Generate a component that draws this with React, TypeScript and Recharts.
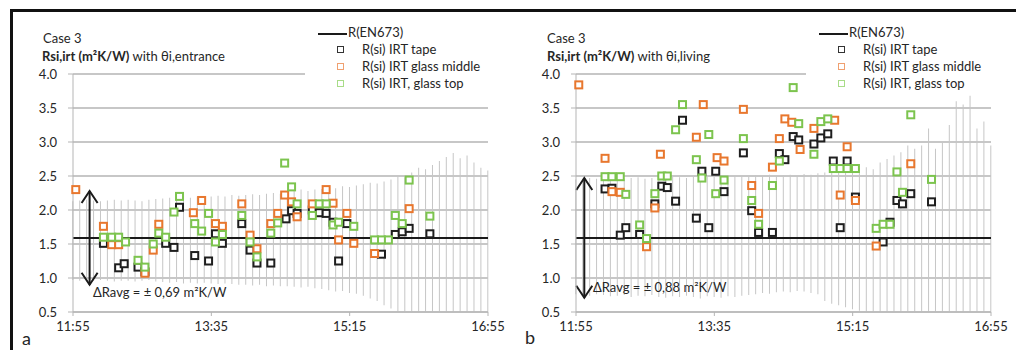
import {
  Bar,
  CartesianGrid,
  ComposedChart,
  Legend,
  ReferenceLine,
  Scatter,
  XAxis,
  YAxis,
} from "recharts";

type Pt = [string, number];

// R(EN673) reference value, m²K/W
const R_EN673 = 1.59;

const yTicks = [0.5, 1, 1.5, 2, 2.5, 3, 3.5, 4];
const xTickLabels = ["11:55", "13:35", "15:15", "16:55"];

// grey spread lines, one every 5 minutes from 11:55
const spreadStart = "11:55";
const spreadStep = 5;

// (a) with θi,entrance
const entranceTape: Pt[] = [
  ["12:17", 1.51], ["12:28", 1.15], ["12:32", 1.21], ["12:42", 1.16], ["12:47", 1.09],
  ["13:02", 1.51], ["13:08", 1.45], ["13:12", 2.04], ["13:23", 1.33], ["13:33", 1.25],
  ["13:38", 1.65], ["13:43", 1.51], ["13:57", 1.8], ["14:03", 1.41], ["14:08", 1.22],
  ["14:18", 1.22], ["14:29", 1.87], ["14:33", 1.99], ["14:37", 1.95], ["14:48", 2.0],
  ["14:53", 1.96], ["14:58", 1.95], ["15:03", 1.82], ["15:07", 1.25], ["15:13", 1.8],
  ["15:38", 1.35], ["15:48", 1.64], ["15:53", 1.68], ["15:58", 1.73], ["16:13", 1.65],
];
const entranceMiddle: Pt[] = [
  ["11:57", 2.3], ["12:17", 1.76], ["12:23", 1.49], ["12:28", 1.49], ["12:47", 1.07],
  ["12:53", 1.41], ["12:57", 1.79], ["13:22", 1.96], ["13:28", 2.14], ["13:38", 1.8],
  ["13:43", 1.76], ["13:57", 2.09], ["14:03", 1.63], ["14:08", 1.43], ["14:18", 1.8],
  ["14:23", 1.95], ["14:28", 2.22], ["14:33", 2.12], ["14:37", 1.9], ["14:48", 2.09],
  ["14:58", 2.3], ["15:03", 2.1], ["15:07", 1.56], ["15:13", 1.95], ["15:18", 1.51],
  ["15:33", 1.36], ["15:58", 2.02],
];
const entranceTop: Pt[] = [
  ["12:17", 1.6], ["12:23", 1.6], ["12:28", 1.6], ["12:33", 1.53], ["12:42", 1.26],
  ["12:47", 1.16], ["12:53", 1.5], ["12:57", 1.66], ["13:02", 1.6], ["13:08", 1.97],
  ["13:12", 2.2], ["13:23", 1.8], ["13:28", 1.69], ["13:33", 1.95], ["13:38", 1.53],
  ["13:43", 1.64], ["13:57", 1.92], ["14:03", 1.53], ["14:08", 1.31], ["14:18", 1.66],
  ["14:23", 1.81], ["14:28", 2.69], ["14:33", 2.34], ["14:37", 2.09], ["14:48", 1.92],
  ["14:53", 2.09], ["14:58", 2.09], ["15:03", 1.78], ["15:07", 1.82], ["15:18", 1.76],
  ["15:33", 1.56], ["15:38", 1.56], ["15:43", 1.56], ["15:48", 1.92], ["15:53", 1.8],
  ["15:58", 2.44], ["16:13", 1.91],
];
const entranceLow = [
  0.97, 0.96, 0.95, 0.96, 0.97, 0.96, 0.95, 0.96, 0.96, 0.95, 0.96, 0.97, 0.95, 0.94,
  0.93, 0.94, 0.92, 0.93, 0.92, 0.93, 0.92, 0.91, 0.92, 0.91, 0.9,
  0.9, 0.89, 0.9, 0.88, 0.89, 0.88,
  0.88, 0.87, 0.86, 0.87, 0.85, 0.84,
  0.82, 0.8, 0.81, 0.78, 0.77,
  0.74, 0.7, 0.66, 0.6, 0.55,
  0.5, 0.5, 0.5,
  0.5, 0.5, 0.5, 0.5, 0.5, 0.5, 0.5, 0.5, 0.5, 0.5, 0.5,
];
const entranceHigh = [
  2.13, 2.14, 2.15, 2.14, 2.13, 2.14, 2.15, 2.14, 2.15, 2.14, 2.13, 2.15, 2.16, 2.17,
  2.18, 2.17, 2.19, 2.18, 2.2, 2.19, 2.2, 2.21, 2.2, 2.22, 2.21,
  2.22, 2.23, 2.22, 2.24, 2.25, 2.24,
  2.27, 2.28, 2.3, 2.28, 2.3, 2.31,
  2.33, 2.32, 2.35, 2.34, 2.36,
  2.38, 2.4, 2.39, 2.42, 2.45,
  2.5, 2.48, 2.55,
  2.62, 2.6, 2.66, 2.72, 2.78, 2.84, 2.76, 2.8, 2.7, 2.62, 2.58,
];
const entranceDelta = 0.69;

// (b) with θi,living
const livingTape: Pt[] = [
  ["12:16", 2.31], ["12:21", 2.32], ["12:27", 1.63], ["12:31", 1.74], ["12:41", 1.64],
  ["12:52", 2.09], ["12:57", 2.35], ["13:01", 2.33], ["13:07", 2.13], ["13:12", 3.32],
  ["13:22", 1.88], ["13:26", 2.57], ["13:31", 1.74], ["13:36", 2.57], ["13:42", 2.27],
  ["13:56", 2.84], ["14:02", 1.99], ["14:07", 1.67], ["14:17", 1.67], ["14:22", 2.83],
  ["14:26", 2.74], ["14:32", 3.08], ["14:36", 3.03], ["14:47", 2.97], ["14:52", 3.06],
  ["14:57", 3.12], ["15:01", 2.72], ["15:06", 1.74], ["15:11", 2.72], ["15:17", 2.19],
  ["15:37", 1.53], ["15:42", 1.82], ["15:47", 2.14], ["15:51", 2.09], ["15:57", 2.24],
  ["16:12", 2.12],
];
const livingMiddle: Pt[] = [
  ["11:57", 3.84], ["12:16", 2.76], ["12:21", 2.27], ["12:27", 2.26], ["12:46", 1.46],
  ["12:52", 2.03], ["12:56", 2.82], ["13:22", 3.07], ["13:27", 3.55], ["13:37", 2.77],
  ["13:42", 2.72], ["13:56", 3.48], ["14:02", 2.36], ["14:07", 1.95], ["14:17", 2.63],
  ["14:22", 3.05], ["14:26", 3.34], ["14:31", 3.29], ["14:37", 2.89], ["14:47", 3.2],
  ["15:02", 3.32], ["15:06", 2.22], ["15:11", 2.93], ["15:17", 2.14], ["15:32", 1.47],
  ["15:57", 2.68],
];
const livingTop: Pt[] = [
  ["12:16", 2.49], ["12:21", 2.49], ["12:27", 2.49], ["12:31", 2.23], ["12:41", 1.78],
  ["12:46", 1.58], ["12:52", 2.24], ["12:57", 2.5], ["13:01", 2.5], ["13:07", 3.18],
  ["13:12", 3.55], ["13:22", 2.74], ["13:26", 2.47], ["13:31", 3.11], ["13:36", 2.24],
  ["13:42", 2.44], ["13:56", 3.05], ["14:02", 2.14], ["14:07", 1.79], ["14:17", 2.36],
  ["14:22", 2.72], ["14:32", 3.8], ["14:36", 3.27], ["14:47", 2.82], ["14:52", 3.3],
  ["14:57", 3.34], ["15:01", 2.61], ["15:06", 2.61], ["15:11", 2.61], ["15:17", 2.61],
  ["15:32", 1.73], ["15:37", 1.79], ["15:42", 1.79], ["15:47", 2.56], ["15:51", 2.26],
  ["15:57", 3.4], ["16:12", 2.45],
];
const livingLow = [
  0.76, 0.75, 0.74, 0.76, 0.75, 0.73, 0.74, 0.75, 0.72, 0.74, 0.73, 0.75, 0.72, 0.71, 0.73,
  0.72, 0.74, 0.72, 0.7, 0.73, 0.72, 0.71, 0.73, 0.72, 0.74, 0.75, 0.76, 0.78, 0.77, 0.79,
  0.8, 0.79, 0.81, 0.8, 0.78, 0.76,
  0.66, 0.62, 0.6, 0.57,
  0.54, 0.52, 0.5, 0.5,
  0.5, 0.5, 0.5, 0.5,
  0.5, 0.5, 0.5, 0.5, 0.5, 0.5, 0.5, 0.5, 0.5, 0.5, 0.5, 0.5, 0.5,
];
const livingHigh = [
  2.45, 2.46, 2.47, 2.46, 2.45, 2.47, 2.48, 2.46, 2.47, 2.48, 2.46, 2.47, 2.48, 2.47, 2.49,
  2.48, 2.47, 2.49, 2.48, 2.5, 2.49, 2.48, 2.5, 2.49, 2.5, 2.49, 2.51, 2.5, 2.52, 2.5,
  2.51, 2.52, 2.5, 2.53, 2.52, 2.54,
  2.55, 2.56, 2.58, 2.57,
  2.6, 2.62, 2.63, 2.6,
  2.7, 2.75, 2.8, 2.85,
  2.95, 2.9, 2.95, 3.2, 2.9, 3.0, 3.25, 3.6, 3.55, 3.68, 3.2, 3.3, 2.95,
];
const livingDelta = 0.88;

const COLORS = { tape: "#1e1e1e", middle: "#e8772e", top: "#7cc44e" };
const LEGEND_ITEMS = [
  { name: "R(si) IRT tape", color: "#333" },
  { name: "R(si) IRT glass middle", color: "#f0a070" },
  { name: "R(si) IRT, glass top", color: "#a8dc88" },
];
const GRID = "#b5b5b5";
const TEXT = "#262626";
const FONT = "Lato, 'Noto Sans', sans-serif";

const toMin = (t: string) => {
  const [h, m] = t.split(":").map(Number);
  return h * 60 + m;
};
const fmtTime = (v: number) => `${Math.floor(v / 60)}:${String(v % 60).padStart(2, "0")}`;
const toPoints = (list: Pt[]) => list.map(([t, v]) => ({ t: toMin(t), v }));

const square = (color: string) => (p: any) =>
  p.cx == null ? <g /> : (
    <rect x={p.cx - 3.5} y={p.cy - 3.5} width={7} height={7} fill="#fff" stroke={color} strokeWidth={2} />
  );

// vertical double-headed arrow spanning ±ΔRavg
const arrowShape = (p: any) => {
  const x = p.x1;
  const top = Math.min(p.y1, p.y2);
  const bot = Math.max(p.y1, p.y2);
  return (
    <g stroke="#1a1a1a" strokeWidth={2} fill="none">
      <line x1={x} y1={top} x2={x} y2={bot} />
      <polyline points={`${x - 8},${top + 12} ${x},${top} ${x + 8},${top + 12}`} />
      <polyline points={`${x - 8},${bot - 12} ${x},${bot} ${x + 8},${bot - 12}`} />
    </g>
  );
};

const LegendBox = () => (
  <div style={{ background: "#fff", fontFamily: FONT, fontSize: 13, color: TEXT, lineHeight: "17px", height: 70 }}>
    <div style={{ position: "relative", height: 17 }}>
      <span style={{ position: "absolute", left: 13, top: 9, width: 29, borderTop: "2px solid #1a1a1a" }} />
      <span style={{ position: "absolute", left: 43, top: 0 }}>R(EN673)</span>
    </div>
    {LEGEND_ITEMS.map((it) => (
      <div key={it.name} style={{ position: "relative", height: 17 }}>
        <span
          style={{
            position: "absolute",
            left: 32,
            top: 5,
            width: 5,
            height: 5,
            border: `1.5px solid ${it.color}`,
          }}
        />
        <span style={{ position: "absolute", left: 57, top: 0, whiteSpace: "nowrap" }}>{it.name}</span>
      </div>
    ))}
  </div>
);

type PanelProps = {
  left: number;
  width: number;
  marginLeft: number;
  marginRight: number;
  legendLeft: number;
  tape: Pt[];
  middle: Pt[];
  top: Pt[];
  low: number[];
  high: number[];
  delta: number;
  arrowAt: string;
};

function Panel(props: PanelProps) {
  const spread = props.low.map((lo, i) => ({
    t: toMin(spreadStart) + i * spreadStep,
    range: [lo, props.high[i]],
  }));
  const ax = toMin(props.arrowAt);
  const tick = { fill: TEXT, fontSize: 13, fontFamily: FONT };
  return (
    <div style={{ position: "absolute", left: props.left, top: 0 }}>
      <ComposedChart
        width={props.width}
        height={350}
        data={spread}
        margin={{ top: 74, right: props.marginRight, bottom: 8, left: props.marginLeft }}
      >
        <CartesianGrid vertical={false} stroke={GRID} strokeWidth={1.3} />
        <XAxis
          dataKey="t"
          type="number"
          domain={[toMin("11:55"), toMin("16:55")]}
          ticks={xTickLabels.map(toMin)}
          tickFormatter={fmtTime}
          height={30}
          tick={tick}
          stroke={GRID}
          tickSize={4}
          tickMargin={6}
        />
        <YAxis
          type="number"
          domain={[0.5, 4]}
          ticks={yTicks}
          tickFormatter={(v: number) => v.toFixed(1)}
          width={40}
          tick={tick}
          stroke={GRID}
          tickSize={5}
          tickMargin={11}
        />
        <Bar dataKey="range" barSize={1} fill="#c6c6c6" isAnimationActive={false} />
        <ReferenceLine y={R_EN673} stroke="#1a1a1a" strokeWidth={2} />
        <ReferenceLine
          segment={[
            { x: ax, y: R_EN673 - props.delta },
            { x: ax, y: R_EN673 + props.delta },
          ]}
          shape={arrowShape}
        />
        <Scatter data={toPoints(props.tape)} dataKey="v" shape={square(COLORS.tape)} isAnimationActive={false} />
        <Scatter data={toPoints(props.middle)} dataKey="v" shape={square(COLORS.middle)} isAnimationActive={false} />
        <Scatter data={toPoints(props.top)} dataKey="v" shape={square(COLORS.top)} isAnimationActive={false} />
        <Legend
          layout="vertical"
          align="center"
          verticalAlign="middle"
          content={() => <LegendBox />}
          wrapperStyle={{ left: props.legendLeft, top: 24, width: 205, height: 70 }}
        />
      </ComposedChart>
    </div>
  );
}

const abs = (left: number, top: number, extra: object = {}) => ({
  position: "absolute" as const,
  left,
  top,
  whiteSpace: "nowrap" as const,
  ...extra,
});

export default function App() {
  return (
    <div
      style={{
        position: "absolute",
        left: 0,
        top: 0,
        width: 1016,
        height: 350,
        background: "#fff",
        fontFamily: FONT,
        color: TEXT,
        overflow: "hidden",
      }}
    >
      <Panel
        left={0}
        width={505}
        marginLeft={33}
        marginRight={17}
        legendLeft={305}
        tape={entranceTape}
        middle={entranceMiddle}
        top={entranceTop}
        low={entranceLow}
        high={entranceHigh}
        delta={entranceDelta}
        arrowAt="12:07"
      />
      <Panel
        left={505}
        width={511}
        marginLeft={31}
        marginRight={25}
        legendLeft={301}
        tape={livingTape}
        middle={livingMiddle}
        top={livingTop}
        low={livingLow}
        high={livingHigh}
        delta={livingDelta}
        arrowAt="12:01"
      />

      {/* frame */}
      <div style={{ position: "absolute", left: 10, top: 9, right: 0, bottom: 0, borderTop: "3px solid #111", borderLeft: "3px solid #111" }} />

      {/* titles */}
      <div style={abs(43, 30, { fontSize: 13, lineHeight: "16px" })}>Case 3</div>
      <div style={abs(42, 48, { fontSize: 13, lineHeight: "16px" })}>
        <b>Rsi,irt (m²K/W)</b> with θi,entrance
      </div>
      <div style={abs(547, 30, { fontSize: 13, lineHeight: "16px" })}>Case 3</div>
      <div style={abs(547, 48, { fontSize: 13, lineHeight: "16px" })}>
        <b>Rsi,irt (m²K/W)</b> with θi,living
      </div>

      {/* ΔRavg annotations */}
      <div style={abs(93, 284, { fontSize: 13, lineHeight: "16px" })}>ΔRavg = ± 0,69 m²K/W</div>
      <div style={abs(593, 279, { fontSize: 13, lineHeight: "16px" })}>ΔRavg = ± 0,88 m²K/W</div>

      {/* panel letters */}
      <div style={abs(22, 328, { fontSize: 18, lineHeight: "20px" })}>a</div>
      <div style={abs(525, 327, { fontSize: 18, lineHeight: "20px" })}>b</div>
    </div>
  );
}
